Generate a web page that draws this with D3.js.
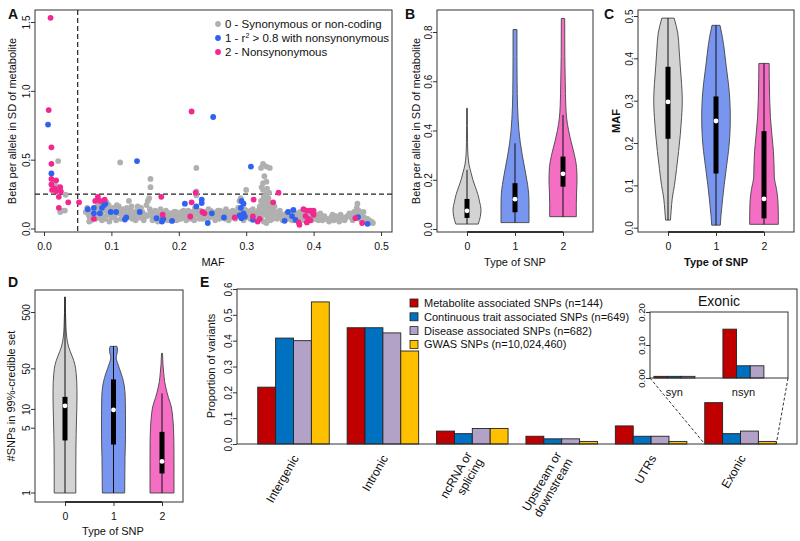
<!DOCTYPE html>
<html>
<head>
<meta charset="utf-8">
<script src="https://cdn.jsdelivr.net/npm/d3@7"></script>
<style>
body { margin: 0; background: #fff; }
svg { font-family: "Liberation Sans", Arial, sans-serif; }
</style>
</head>
<body>
<svg id="fig" width="800" height="541"></svg>
<script>
// ---------- panel A: [MAF, beta] per SNP ----------
var grayPts = [
  [0.021,0.49],[0.018,0.31],[0.032,0.245],[0.027,0.13],[0.031,0.13],[0.024,0.12],[0.015,0.33],
  [0.062,0.12],[0.066,0.10],[0.068,0.08],[0.07,0.06],[0.072,0.09],[0.075,0.13],[0.078,0.10],[0.08,0.08],
  [0.082,0.14],[0.085,0.12],[0.087,0.09],[0.09,0.16],[0.092,0.13],[0.094,0.10],[0.096,0.17],[0.098,0.14],
  [0.1,0.11],[0.1,0.08],[0.079,0.16],[0.084,0.18],[0.088,0.15],[0.093,0.19],
  [0.064,0.15],[0.067,0.05],[0.071,0.12],[0.077,0.07],[0.081,0.11],[0.086,0.06],[0.091,0.07],[0.095,0.12],[0.097,0.05],
  [0.103,0.15],[0.105,0.09],[0.108,0.17],[0.11,0.13],[0.112,0.11],[0.114,0.07],[0.116,0.10],[0.118,0.14],
  [0.12,0.12],[0.122,0.1],[0.124,0.08],[0.126,0.2],[0.128,0.13],[0.13,0.16],[0.132,0.11],[0.134,0.09],
  [0.136,0.06],[0.138,0.13],[0.14,0.1],[0.142,0.08],[0.144,0.15],[0.146,0.12],[0.148,0.06],[0.15,0.1],
  [0.104,0.12],[0.107,0.06],[0.111,0.16],[0.115,0.12],[0.119,0.09],[0.123,0.15],[0.127,0.1],[0.131,0.07],
  [0.135,0.12],[0.139,0.16],[0.143,0.11],[0.147,0.09],
  [0.113,0.48],[0.158,0.36],[0.158,0.30],
  [0.152,0.17],[0.154,0.2],[0.156,0.22],[0.158,0.12],[0.16,0.09],[0.162,0.1],[0.164,0.07],[0.166,0.11],
  [0.168,0.09],[0.17,0.08],[0.172,0.1],[0.174,0.12],[0.176,0.09],[0.178,0.11],[0.18,0.1],[0.182,0.08],
  [0.184,0.06],[0.186,0.09],[0.188,0.11],[0.19,0.1],[0.192,0.08],[0.194,0.1],[0.196,0.12],[0.198,0.09],[0.2,0.07],
  [0.153,0.09],[0.157,0.14],[0.161,0.06],[0.165,0.13],[0.169,0.05],[0.173,0.14],[0.177,0.06],[0.181,0.13],
  [0.185,0.11],[0.189,0.07],[0.193,0.12],[0.197,0.06],
  [0.202,0.1],[0.204,0.12],[0.206,0.09],[0.208,0.11],[0.21,0.08],[0.212,0.1],[0.214,0.13],[0.216,0.1],
  [0.218,0.07],[0.22,0.12],[0.222,0.09],[0.224,0.15],[0.226,0.44],[0.226,0.27],[0.226,0.24],[0.228,0.11],
  [0.23,0.09],[0.232,0.13],[0.234,0.1],[0.236,0.07],[0.238,0.1],[0.24,0.12],[0.242,0.09],[0.244,0.14],
  [0.246,0.08],[0.248,0.1],[0.25,0.12],
  [0.203,0.07],[0.207,0.13],[0.211,0.06],[0.215,0.09],[0.219,0.11],[0.223,0.06],[0.227,0.13],[0.231,0.07],
  [0.235,0.12],[0.239,0.08],[0.243,0.11],[0.247,0.13],
  [0.252,0.09],[0.254,0.06],[0.256,0.1],[0.258,0.13],[0.26,0.07],[0.262,0.11],[0.264,0.08],[0.266,0.12],
  [0.268,0.1],[0.27,0.14],[0.272,0.09],[0.274,0.06],[0.276,0.08],[0.278,0.11],[0.28,0.13],[0.282,0.1],
  [0.284,0.07],[0.286,0.12],[0.288,0.15],[0.29,0.09],[0.29,0.2],[0.292,0.22],[0.294,0.12],[0.296,0.06],
  [0.298,0.1],[0.3,0.28],[0.3,0.13],
  [0.253,0.11],[0.257,0.08],[0.261,0.13],[0.265,0.1],[0.269,0.07],[0.273,0.12],[0.277,0.1],[0.281,0.08],
  [0.285,0.1],[0.289,0.12],[0.297,0.14],[0.299,0.08],
  [0.302,0.09],[0.304,0.12],[0.306,0.07],[0.308,0.1],[0.31,0.14],[0.312,0.08],[0.314,0.11],[0.316,0.09],
  [0.318,0.13],[0.32,0.16],[0.32,0.1],[0.322,0.44],[0.322,0.2],[0.322,0.07],[0.324,0.12],[0.324,0.18],
  [0.325,0.47],[0.325,0.33],[0.325,0.28],[0.326,0.23],[0.326,0.15],[0.326,0.05],[0.328,0.21],[0.328,0.1],
  [0.33,0.45],[0.33,0.34],[0.33,0.25],[0.33,0.17],[0.33,0.12],[0.33,0.04],[0.332,0.2],[0.332,0.08],
  [0.334,0.15],[0.334,0.26],[0.335,0.44],[0.336,0.11],[0.336,0.06],[0.338,0.18],[0.34,0.13],[0.34,0.09],
  [0.342,0.16],[0.344,0.11],[0.346,0.07],[0.348,0.1],[0.35,0.13],
  [0.303,0.1],[0.307,0.13],[0.311,0.1],[0.315,0.07],[0.319,0.11],[0.323,0.3],[0.327,0.38],[0.329,0.14],
  [0.331,0.29],[0.333,0.22],[0.337,0.14],[0.339,0.07],[0.343,0.08],[0.347,0.12],
  [0.352,0.09],[0.354,0.06],[0.356,0.1],[0.358,0.08],[0.36,0.11],[0.362,0.07],[0.364,0.09],[0.366,0.12],
  [0.368,0.06],[0.37,0.1],[0.372,0.08],[0.374,0.11],[0.376,0.07],[0.378,0.09],[0.38,0.12],[0.382,0.08],
  [0.384,0.1],[0.386,0.06],[0.388,0.11],[0.39,0.09],[0.392,0.07],[0.394,0.1],[0.396,0.08],[0.398,0.12],[0.4,0.09],
  [0.355,0.08],[0.363,0.1],[0.371,0.06],[0.379,0.1],[0.387,0.08],[0.397,0.06],
  [0.402,0.07],[0.405,0.1],[0.408,0.08],[0.41,0.11],[0.413,0.06],[0.416,0.09],[0.42,0.07],[0.423,0.05],
  [0.426,0.08],[0.43,0.06],[0.433,0.09],[0.436,0.07],[0.44,0.1],[0.443,0.08],[0.446,0.06],[0.45,0.09],
  [0.453,0.11],[0.456,0.08],[0.46,0.12],[0.462,0.1],[0.464,0.15],[0.465,0.18],[0.467,0.13],[0.468,0.07],
  [0.47,0.1],[0.472,0.06],[0.475,0.08],[0.478,0.05],[0.48,0.07],[0.483,0.04],[0.486,0.05],[0.488,0.04],
  [0.407,0.06],[0.417,0.07],[0.428,0.1],[0.438,0.05],[0.448,0.08],[0.458,0.06],[0.466,0.11],[0.474,0.12],[0.482,0.06]
];
var bluePts = [
  [0.006,0.755],[0.011,0.40],[0.065,0.14],[0.074,0.15],[0.074,0.11],[0.083,0.11],[0.086,0.15],[0.089,0.17],
  [0.091,0.18],[0.099,0.12],[0.107,0.12],[0.12,0.065],[0.122,0.08],[0.138,0.49],[0.142,0.12],[0.167,0.075],
  [0.175,0.05],[0.176,0.065],[0.177,0.07],[0.19,0.055],[0.209,0.18],[0.226,0.16],[0.234,0.21],[0.234,0.185],
  [0.243,0.04],[0.249,0.11],[0.251,0.81],[0.267,0.08],[0.293,0.2],[0.296,0.18],[0.292,0.15],[0.296,0.11],
  [0.293,0.075],[0.298,0.087],[0.29,0.095],[0.307,0.45],[0.31,0.063],[0.357,0.056],[0.362,0.12],[0.37,0.135],
  [0.373,0.063],[0.368,0.09],[0.466,0.083],[0.48,0.034]
];
var pinkPts = [
  [0.0097,1.53],[0.007,0.86],[0.011,0.59],[0.011,0.47],[0.018,0.35],[0.011,0.36],[0.011,0.32],[0.024,0.30],
  [0.012,0.28],[0.018,0.27],[0.025,0.27],[0.022,0.23],[0.022,0.15],[0.036,0.19],[0.052,0.19],[0.016,0.29],
  [0.074,0.07],[0.076,0.2],[0.08,0.23],[0.083,0.2],[0.09,0.21],[0.174,0.23],[0.176,0.10],[0.217,0.087],
  [0.219,0.19],[0.219,0.85],[0.225,0.26],[0.235,0.12],[0.238,0.11],[0.283,0.08],[0.31,0.087],[0.311,0.21],
  [0.317,0.05],[0.32,0.07],[0.34,0.19],[0.348,0.26],[0.378,0.044],[0.379,0.027],[0.385,0.14],[0.39,0.13],
  [0.395,0.13],[0.398,0.12],[0.4,0.13],[0.388,0.09],[0.392,0.07],[0.395,0.06],[0.39,0.044],[0.4,0.1],
  [0.462,0.075],[0.472,0.04]
];
var snpTypes = ["0", "1", "2"];
var legendA = ["0 - Synonymous or non-coding", "1 - r", "2 - Nonsynonymous"];

// ---------- violins: profile = [value, relative width] ----------
var betaProfiles = [
  [[0.02,0.8],[0.05,0.95],[0.08,1.0],[0.11,0.9],[0.14,0.78],[0.17,0.6],[0.2,0.42],[0.23,0.28],[0.26,0.15],[0.3,0.07],[0.35,0.04],[0.42,0.03],[0.49,0.03]],
  [[0.026,1.0],[0.06,1.0],[0.1,1.0],[0.14,0.98],[0.18,0.9],[0.22,0.78],[0.26,0.65],[0.3,0.52],[0.35,0.38],[0.4,0.28],[0.45,0.22],[0.5,0.18],[0.6,0.15],[0.7,0.14],[0.81,0.14]],
  [[0.05,0.95],[0.1,0.95],[0.15,0.97],[0.2,1.0],[0.25,0.97],[0.3,0.82],[0.35,0.6],[0.4,0.4],[0.45,0.26],[0.5,0.2],[0.6,0.16],[0.7,0.13],[0.855,0.12]]
];
// [low whisker, q1, median, q3, high whisker]
var betaStats = [[0.02,0.045,0.074,0.122,0.24],[0.026,0.068,0.121,0.186,0.348],[0.049,0.172,0.224,0.294,0.463]];

var mafProfiles = [
  [[0.018,0.17],[0.04,0.22],[0.07,0.3],[0.1,0.45],[0.14,0.6],[0.18,0.74],[0.22,0.86],[0.26,0.95],[0.3,1.0],[0.34,0.95],[0.38,0.86],[0.42,0.78],[0.46,0.68],[0.495,0.43]],
  [[0.006,0.3],[0.03,0.35],[0.07,0.47],[0.1,0.57],[0.14,0.72],[0.18,0.87],[0.22,0.97],[0.26,1.0],[0.3,0.97],[0.34,0.87],[0.38,0.72],[0.42,0.58],[0.45,0.45],[0.478,0.28]],
  [[0.008,1.0],[0.03,1.0],[0.06,0.98],[0.09,0.88],[0.12,0.72],[0.15,0.7],[0.18,0.66],[0.22,0.55],[0.26,0.45],[0.3,0.4],[0.35,0.37],[0.388,0.36]]
];
var mafStats = [[0.018,0.21,0.297,0.38,0.495],[0.006,0.128,0.252,0.31,0.478],[0.008,0.022,0.068,0.228,0.388]];

var credProfiles = [
  [[1,0.9],[1.5,0.9],[2.5,0.91],[4,0.93],[7,0.96],[12,0.99],[20,1.0],[30,0.98],[42,0.93],[60,0.82],[81,0.62],[100,0.45],[122,0.3],[150,0.2],[183,0.14],[280,0.08],[500,0.04],[947,0.02]],
  [[1,0.93],[2,0.96],[4,1.0],[8,1.0],[16,0.98],[25,0.9],[35,0.75],[50,0.5],[65,0.32],[78,0.22],[95,0.3],[112,0.33],[125,0.28]],
  [[1,1.0],[1.4,1.0],[2,1.0],[3.3,0.99],[5,0.96],[6.5,0.92],[9,0.85],[11,0.78],[16,0.53],[24,0.31],[30,0.22],[41,0.15],[60,0.08],[94,0.04]]
];
var credStats = [[1,3.3,11.5,16.3,947],[1,2.9,9.8,32.6,125],[1,1.37,1.8,4.4,18.6]];
var credTicks = [1, 5, 10, 50, 500];

// ---------- panel E ----------
var regions = ["Intergenic", "Intronic", "ncRNA or|splicing", "Upstream or|downstream", "UTRs", "Exonic"];
var seriesNames = ["Metabolite associated SNPs (n=144)", "Continuous trait associated SNPs (n=649)",
                   "Disease associated SNPs (n=682)", "GWAS SNPs (n=10,024,460)"];
var metaboliteVals = [0.22, 0.45, 0.05, 0.03, 0.07, 0.16];
var continuousVals = [0.41, 0.45, 0.04, 0.02, 0.03, 0.04];
var diseaseVals    = [0.40, 0.43, 0.06, 0.02, 0.03, 0.05];
var gwasVals       = [0.55, 0.36, 0.06, 0.01, 0.01, 0.01];
var exonicCats = ["syn", "nsyn"];
var exonicMetabolite = [0.005, 0.148];
var exonicContinuous = [0.005, 0.037];
var exonicDisease    = [0.005, 0.037];

var seriesColors = ["#c00000", "#0070c0", "#b3a2c7", "#ffc000"];
var ptColors = ["#b0b0b0", "#2f62f0", "#f2288f"];
var violinColors = ["#d3d3d3", "#7896f0", "#f46ec3"];

var svg = d3.select("#fig");
var ink = "#333";

function frame(x0, x1, y0, y1) {
  svg.append("rect").attr("x", x0).attr("y", y0).attr("width", x1 - x0).attr("height", y1 - y0)
    .attr("fill", "none").attr("stroke", ink).attr("stroke-width", 1);
}

function leftAxis(scale, ticks, fmt, x, size) {
  var g = svg.append("g").attr("transform", "translate(" + x + ",0)")
    .call(d3.axisLeft(scale).tickValues(ticks).tickFormat(fmt).tickSize(4).tickSizeOuter(0));
  g.select(".domain").remove();
  g.selectAll("line").attr("stroke", ink);
  g.selectAll("text").attr("x", null).attr("dy", null)
    .attr("transform", "translate(-5.5,0) rotate(-90)").attr("text-anchor", "middle")
    .attr("font-size", size || 10).attr("fill", "#111");
  return g;
}

function bottomAxis(scale, ticks, fmt, y, line) {
  var g = svg.append("g").attr("transform", "translate(0," + y + ")")
    .call(d3.axisBottom(scale).tickValues(ticks).tickFormat(fmt).tickSize(4).tickSizeOuter(0).tickPadding(7));
  if (line) {
    g.select(".domain").attr("d", "M" + scale(ticks[0]) + ",0H" + scale(ticks[ticks.length - 1]))
      .attr("stroke", "#111").attr("stroke-width", 1.5);
  } else g.select(".domain").remove();
  g.selectAll("line").attr("stroke", ink);
  g.selectAll("text").attr("font-size", 10.5).attr("fill", "#111");
  return g;
}

function label(txt, x, y, opts) {
  opts = opts || {};
  var t = svg.append("text").attr("x", x).attr("y", y).attr("font-size", opts.size || 11)
    .attr("text-anchor", opts.anchor || "middle").attr("fill", "#111").text(txt);
  if (opts.bold) t.attr("font-weight", "bold");
  if (opts.rot) t.attr("transform", "rotate(" + opts.rot + "," + x + "," + y + ")");
  return t;
}

function violin(cx, yFn, profile, st, half, fill) {
  var area = d3.area()
    .y(function(d) { return yFn(d[0]); })
    .x0(function(d) { return cx - d[1] * half; })
    .x1(function(d) { return cx + d[1] * half; })
    .curve(d3.curveMonotoneY);
  var pts = profile.slice().sort(function(a, b) { return yFn(a[0]) - yFn(b[0]); });
  svg.append("path").attr("d", area(pts)).attr("fill", fill).attr("stroke", "#444").attr("stroke-width", 0.9);
  svg.append("line").attr("x1", cx).attr("x2", cx).attr("y1", yFn(st[0])).attr("y2", yFn(st[4]))
    .attr("stroke", "#111").attr("stroke-width", 1);
  svg.append("rect").attr("x", cx - 2.5).attr("width", 5).attr("y", yFn(st[3]))
    .attr("height", yFn(st[1]) - yFn(st[3])).attr("fill", "#000");
  svg.append("circle").attr("cx", cx).attr("cy", yFn(st[2])).attr("r", 2.4).attr("fill", "#fff");
}

// ================= A =================
var xA = d3.scaleLinear().domain([0, 0.5]).range([44, 381]);
var yA = d3.scaleLinear().domain([0, 1.5]).range([228.5, 22]);
frame(35, 392, 10, 232);
svg.append("line").attr("x1", xA(0.05)).attr("x2", xA(0.05)).attr("y1", 10).attr("y2", 232)
  .attr("stroke", "#222").attr("stroke-dasharray", "5,3").attr("stroke-width", 1.2);
svg.append("line").attr("x1", 35).attr("x2", 392).attr("y1", yA(0.25)).attr("y2", yA(0.25))
  .attr("stroke", "#222").attr("stroke-dasharray", "5,3").attr("stroke-width", 1.2);
[grayPts, bluePts, pinkPts].forEach(function(set, i) {
  svg.append("g").selectAll("circle").data(set).enter().append("circle")
    .attr("cx", function(d) { return xA(d[0]); })
    .attr("cy", function(d) { return yA(d[1]); })
    .attr("r", 2.9).attr("fill", ptColors[i]);
});
leftAxis(yA, [0, 0.5, 1, 1.5], d3.format(".1f"), 35);
bottomAxis(xA, [0, 0.1, 0.2, 0.3, 0.4, 0.5], d3.format(".1f"), 232, false);
label("MAF", 213, 266);
label("Beta per allele in SD of metabolite", 16, 121, {rot: -90});
label("A", 8, 19, {anchor: "start", bold: true, size: 14});
// legend
var legA = svg.append("g");
legendA.forEach(function(t, i) {
  var y = 24 + i * 14;
  legA.append("circle").attr("cx", 218).attr("cy", y).attr("r", 2.9).attr("fill", ptColors[i]);
  var tx = legA.append("text").attr("x", 225).attr("y", y + 4).attr("font-size", 11.5).attr("fill", "#111").text(t);
  if (i == 1) {
    tx.append("tspan").attr("dy", -4).attr("font-size", 7).text("2");
    tx.append("tspan").attr("dy", 4).text(" > 0.8 with nonsynonymous");
  }
});

// ================= B =================
var xB = d3.scalePoint().domain(snpTypes).range([467, 563]);
var yB = d3.scaleLinear().domain([0, 0.8]).range([229, 32]);
frame(437, 593, 10, 232);
snpTypes.forEach(function(t, i) { violin(xB(t), yB, betaProfiles[i], betaStats[i], 14, violinColors[i]); });
leftAxis(yB, [0, 0.2, 0.4, 0.6, 0.8], d3.format(".1f"), 437);
bottomAxis(xB, snpTypes, null, 232, true);
label("Type of SNP", 515, 266);
label("Beta per allele in SD of metabolite", 420, 121, {rot: -90});
label("B", 405, 19, {anchor: "start", bold: true, size: 14});

// ================= C =================
var xC = d3.scalePoint().domain(snpTypes).range([668, 764]);
var yC = d3.scaleLinear().domain([0, 0.5]).range([227.7, 16]);
frame(638, 794, 10, 232);
snpTypes.forEach(function(t, i) { violin(xC(t), yC, mafProfiles[i], mafStats[i], 14.3, violinColors[i]); });
leftAxis(yC, [0, 0.1, 0.2, 0.3, 0.4, 0.5], d3.format(".1f"), 638);
bottomAxis(xC, snpTypes, null, 232, true);
label("Type of SNP", 716, 266, {bold: true});
label("MAF", 620, 121, {rot: -90, bold: true});
label("C", 604, 19, {anchor: "start", bold: true, size: 14});

// ================= D =================
var xD = d3.scalePoint().domain(snpTypes).range([65, 162]);
var yDt = d3.scaleLinear().domain([Math.log10(1 - 0.7), Math.log10(500 - 0.7)]).range([493, 312.5]);
function yD(v) { return yDt(Math.log10(v - 0.7)); }
frame(35, 183, 290, 502);
snpTypes.forEach(function(t, i) { violin(xD(t), yD, credProfiles[i], credStats[i], 12, violinColors[i]); });
var gD = svg.append("g").attr("transform", "translate(35,0)");
credTicks.forEach(function(v) {
  gD.append("line").attr("x1", 0).attr("x2", -4).attr("y1", yD(v)).attr("y2", yD(v)).attr("stroke", ink);
  gD.append("text").attr("transform", "translate(-5.5," + yD(v) + ") rotate(-90)").attr("text-anchor", "middle")
    .attr("font-size", 10).attr("fill", "#111").text(v);
});
bottomAxis(xD, snpTypes, null, 502, true);
label("Type of SNP", 113, 535);
label("#SNPs in 99%-credible set", 15, 396, {rot: -90});
label("D", 8, 287, {anchor: "start", bold: true, size: 14});

// ================= E =================
var valsBySeries = [metaboliteVals, continuousVals, diseaseVals, gwasVals];
var xE = d3.scaleBand().domain(regions).range([237, 797]).paddingInner(0.2).paddingOuter(0.232);
var xS = d3.scaleBand().domain(d3.range(4)).range([0, xE.bandwidth()]);
var yE = d3.scaleLinear().domain([0, 0.6]).range([444, 289]);
regions.forEach(function(r, ri) {
  valsBySeries.forEach(function(vals, si) {
    svg.append("rect").attr("x", xE(r) + xS(si)).attr("width", xS.bandwidth())
      .attr("y", yE(vals[ri])).attr("height", yE(0) - yE(vals[ri]))
      .attr("fill", seriesColors[si]).attr("stroke", "#222").attr("stroke-width", 0.9);
  });
  var lines = r.split("|");
  var g = svg.append("g").attr("transform", "translate(" + (xE(r) + xE.bandwidth() / 2 + 2) + ",456) rotate(-60)");
  lines.forEach(function(l, li) {
    g.append("text").attr("x", 0).attr("y", (li - (lines.length - 1) / 2) * 13).attr("dy", "0.35em")
      .attr("text-anchor", "end").attr("font-size", 12).attr("fill", "#111").text(l);
  });
});
frame(237, 797, 289, 444);
leftAxis(yE, [0, 0.1, 0.2, 0.3, 0.4, 0.5, 0.6], d3.format(".1f"), 237);
label("Proportion of variants", 215, 366, {rot: -90});
label("E", 200, 287, {anchor: "start", bold: true, size: 14});

var legE = svg.append("g");
seriesNames.forEach(function(n, i) {
  var y = 303 + i * 13.8;
  legE.append("rect").attr("x", 410).attr("y", y - 4).attr("width", 8).attr("height", 8)
    .attr("fill", seriesColors[i]).attr("stroke", "#222").attr("stroke-width", 0.8);
  legE.append("text").attr("x", 424).attr("y", y + 4).attr("font-size", 11).attr("fill", "#111").text(n);
});

// exonic inset
var xI = d3.scaleBand().domain(exonicCats).range([650, 788]).paddingInner(0.406).paddingOuter(0.203).align(0.14);
var xIS = d3.scaleBand().domain(d3.range(3)).range([0, xI.bandwidth()]);
var yI = d3.scaleLinear().domain([0, 0.2]).range([378, 312]);
var exVals = [exonicMetabolite, exonicContinuous, exonicDisease];
svg.append("rect").attr("x", 650).attr("y", 312).attr("width", 138).attr("height", 66).attr("fill", "#fff");
exonicCats.forEach(function(c, ci) {
  exVals.forEach(function(vals, si) {
    svg.append("rect").attr("x", xI(c) + xIS(si)).attr("width", xIS.bandwidth())
      .attr("y", yI(vals[ci])).attr("height", yI(0) - yI(vals[ci]))
      .attr("fill", seriesColors[si]).attr("stroke", "#222").attr("stroke-width", 0.9);
  });
  label(c, xI(c) + xI.bandwidth() / 2, 396, {size: 11});
});
frame(650, 788, 312, 378);
leftAxis(yI, [0, 0.1, 0.2], d3.format(".2f"), 650, 9.5);
label("Exonic", 719, 306, {size: 14});
var exL = xE("Exonic"), exR = xE("Exonic") + xE.bandwidth();
svg.append("line").attr("x1", 650).attr("y1", 378).attr("x2", exL).attr("y2", 444)
  .attr("stroke", "#333").attr("stroke-dasharray", "3,2");
svg.append("line").attr("x1", 788).attr("y1", 378).attr("x2", exR).attr("y2", 444)
  .attr("stroke", "#333").attr("stroke-dasharray", "3,2");
</script>
</body>
</html>
